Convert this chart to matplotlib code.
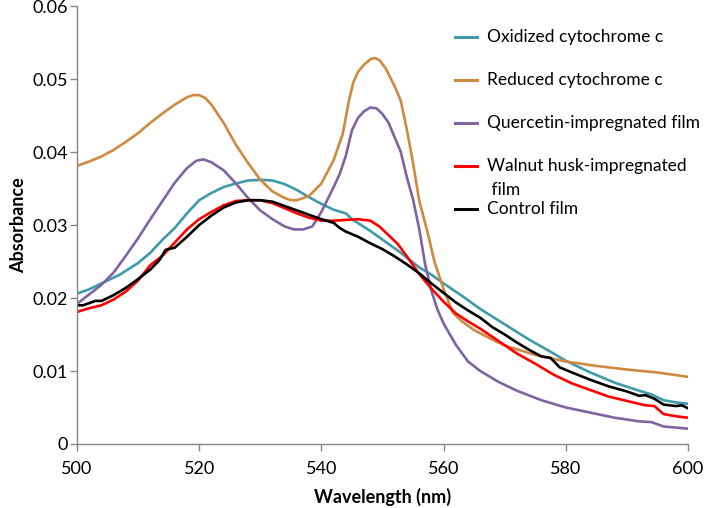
import matplotlib
matplotlib.use('Agg')
import matplotlib.pyplot as plt

plt.rcParams['font.family'] = ['Lato', 'DejaVu Sans']

# Oxidized cytochrome c
wl_ox = [500, 502, 504, 507, 510, 512, 514, 516, 518, 520, 522, 524, 526, 528, 530, 532,
         534, 536, 538, 540, 542, 544, 545, 548, 550, 553, 556, 558, 560, 563, 566, 570,
         574, 578, 580, 584, 588, 592, 594, 596, 598, 600]
ab_ox = [0.0206, 0.0212, 0.0220, 0.0232, 0.0248, 0.0262, 0.0280, 0.0296, 0.0316, 0.0334,
         0.0344, 0.0352, 0.0357, 0.0361, 0.0362, 0.0361, 0.0356, 0.0348, 0.0338, 0.0329,
         0.0321, 0.0316, 0.0308, 0.0292, 0.0280, 0.0262, 0.0242, 0.0232, 0.0220, 0.0203,
         0.0185, 0.0164, 0.0143, 0.0124, 0.0114, 0.0098, 0.0084, 0.0073, 0.0068, 0.0060,
         0.0057, 0.0055]

# Reduced cytochrome c
wl_red = [500, 502, 504, 506, 508, 510, 512, 514, 516, 518, 519, 520, 521, 522, 524, 526,
          528, 530, 532, 534, 535, 536, 538, 540, 542, 543.5, 544.5, 545.2, 546, 547, 548,
          548.7, 549.5, 550.5, 552, 553, 554, 555, 556, 557.4, 558.5, 560, 561.5, 563, 565,
          568, 570, 575, 580, 585, 590, 595, 600]
ab_red = [0.0381, 0.0387, 0.0394, 0.0403, 0.0414, 0.0426, 0.0440, 0.0453, 0.0465, 0.0475,
          0.0478, 0.0478, 0.0474, 0.0465, 0.0440, 0.0410, 0.0385, 0.0362, 0.0346, 0.0337,
          0.0334, 0.0334, 0.0340, 0.0357, 0.0389, 0.0425, 0.0470, 0.0495, 0.0510, 0.0520,
          0.0527, 0.0529, 0.0526, 0.0515, 0.0490, 0.0470, 0.0430, 0.0385, 0.0334, 0.0289,
          0.0250, 0.0212, 0.0180, 0.0168, 0.0156, 0.0143, 0.0135, 0.0122, 0.0113, 0.0107,
          0.0102, 0.0098, 0.0092]

# Quercetin-impregnated film
wl_q = [500, 502, 504, 506, 508, 510, 512, 514, 516, 518, 519.5, 520.7, 522, 524, 526, 528,
        530, 532, 534, 535.5, 537, 538.5, 540, 541, 542, 543, 544, 545, 546, 547, 548, 549,
        550, 551, 552, 553, 554, 555, 556, 557, 558, 559, 560, 562, 564, 566, 569, 572, 576,
        580, 584, 588, 592, 594, 596, 600]
ab_q = [0.0192, 0.0205, 0.0218, 0.0235, 0.0258, 0.0282, 0.0308, 0.0333, 0.0358, 0.0378,
        0.0388, 0.0390, 0.0386, 0.0375, 0.0357, 0.0337, 0.0320, 0.0308, 0.0298, 0.0294,
        0.0294, 0.0298, 0.0318, 0.0335, 0.0352, 0.0370, 0.0395, 0.0430, 0.0447, 0.0456,
        0.0461, 0.0460, 0.0452, 0.0440, 0.0420, 0.0400, 0.0365, 0.0335, 0.0295, 0.0245,
        0.0210, 0.0184, 0.0165, 0.0136, 0.0113, 0.0100, 0.0085, 0.0073, 0.0060, 0.0050,
        0.0043, 0.0036, 0.0031, 0.0030, 0.0024, 0.0021]

# Walnut husk-impregnated film
wl_w = [500, 502, 504, 506, 508, 510, 512, 514, 516, 518, 520, 522, 524, 526, 528, 530, 532,
        534, 536, 538, 540, 542, 544, 546, 548, 549.5, 551, 552.5, 554, 556, 558, 560, 562,
        564, 566, 569, 572, 575, 578, 581, 584, 587, 590, 593, 594.5, 596, 598, 600]
ab_w = [0.0181, 0.0186, 0.0190, 0.0198, 0.0209, 0.0224, 0.0245, 0.0258, 0.0276, 0.0294,
        0.0308, 0.0318, 0.0327, 0.0333, 0.0334, 0.0334, 0.0330, 0.0323, 0.0316, 0.0310,
        0.0306, 0.0306, 0.0307, 0.0308, 0.0306, 0.0298, 0.0286, 0.0274, 0.0257, 0.0233,
        0.0213, 0.0195, 0.0179, 0.0168, 0.0158, 0.0141, 0.0124, 0.0110, 0.0095, 0.0083,
        0.0074, 0.0065, 0.0059, 0.0053, 0.0052, 0.0041, 0.0038, 0.0036]

# Control film
wl_c = [500, 501, 502, 503, 504, 505, 506, 508, 510, 512, 513.5, 514.5, 516, 518, 520, 522,
        524, 526, 528, 530, 532, 534, 536, 538, 540, 542, 543, 544, 546, 548, 550, 552, 554,
        556, 558, 560, 562, 564, 566, 568, 570, 572, 574, 576, 577.5, 579, 581, 584, 587,
        590, 592, 593, 594.5, 596, 598, 599, 600]
ab_c = [0.0190, 0.0190, 0.0193, 0.0196, 0.0196, 0.0200, 0.0204, 0.0214, 0.0226, 0.0239,
        0.0252, 0.0266, 0.0269, 0.0284, 0.0300, 0.0313, 0.0324, 0.0331, 0.0334, 0.0334,
        0.0332, 0.0326, 0.0320, 0.0314, 0.0308, 0.0303, 0.0296, 0.0291, 0.0284, 0.0275,
        0.0267, 0.0257, 0.0246, 0.0234, 0.0220, 0.0207, 0.0194, 0.0183, 0.0173, 0.0160,
        0.0150, 0.0139, 0.0129, 0.0120, 0.0118, 0.0105, 0.0098, 0.0088, 0.0079, 0.0072,
        0.0066, 0.0067, 0.0062, 0.0054, 0.0052, 0.0053, 0.0049]

labels = ['Oxidized cytochrome c', 'Reduced cytochrome c', 'Quercetin-impregnated film',
          'Walnut husk-impregnated\n film', 'Control film']
colors = ['#3f9aab', '#cf8a40', '#8064a2', '#ff0000', '#000000']
xs = [wl_ox, wl_red, wl_q, wl_w, wl_c]
ys = [ab_ox, ab_red, ab_q, ab_w, ab_c]

fig = plt.figure(figsize=(7.09, 5.08), dpi=100)
ax = fig.add_axes([0.1086, 0.126, 0.8618, 0.862])

for x, y, c in zip(xs, ys, colors):
    ax.plot(x, y, color=c, lw=1.9)

ax.set_xlim(500, 600)
ax.set_ylim(0, 0.06)
ax.set_xticks([500, 520, 540, 560, 580, 600])
ax.set_yticks([0, 0.01, 0.02, 0.03, 0.04, 0.05, 0.06])
ax.set_yticklabels(['0', '0.01', '0.02', '0.03', '0.04', '0.05', '0.06'])

for s in ['top', 'right']:
    ax.spines[s].set_visible(False)
for s in ['left', 'bottom']:
    ax.spines[s].set_color('#868686')
    ax.spines[s].set_linewidth(1)
ax.tick_params(direction='out', length=5, width=1, color='#868686', labelsize=13)
ax.tick_params(axis='x', pad=7)
ax.tick_params(axis='y', pad=1.5)

ax.set_xlabel('Wavelength (nm)', fontsize=13, fontweight='bold', labelpad=8)
ax.set_ylabel('Absorbance', fontsize=13, fontweight='bold', labelpad=4)

# legend drawn by hand (Excel style, no frame)
y0 = 0.929
step = 0.098
for i, (lab, c) in enumerate(zip(labels, colors)):
    yy = y0 - i * step
    ax.plot([0.619, 0.655], [yy, yy], color=c, lw=2.2, transform=ax.transAxes, clip_on=False)
    lines = lab.split('\n')
    ax.text(0.671, yy, lines[0], transform=ax.transAxes, va='center', ha='left', fontsize=12.5)
    for j, extra in enumerate(lines[1:]):
        ax.text(0.671, yy - 0.055 * (j + 1), extra, transform=ax.transAxes,
                va='center', ha='left', fontsize=12.5)

plt.savefig('out.png', dpi=100)
